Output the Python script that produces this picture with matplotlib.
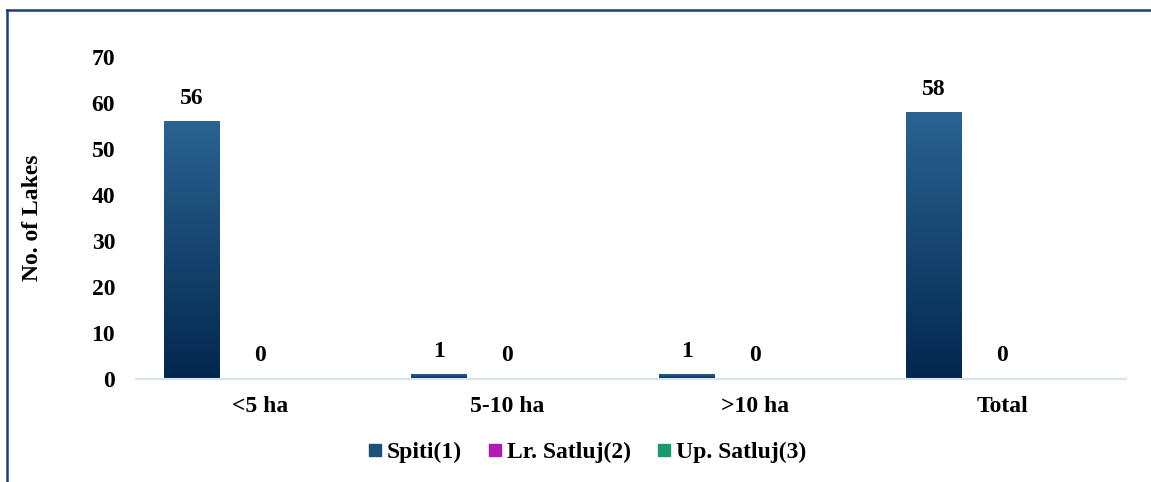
import matplotlib.pyplot as plt
import numpy as np
from matplotlib.lines import Line2D

categories = ['<5 ha', '5-10 ha', '>10 ha', 'Total']
spiti = [56, 1, 1, 58]
lr_satluj = [0, 0, 0, 0]
up_satluj = [0, 0, 0, 0]
series_names = ['Spiti(1)', 'Lr. Satluj(2)', 'Up. Satluj(3)']

plt.rcParams['font.family'] = ['Liberation Serif', 'DejaVu Serif']
plt.rcParams['font.weight'] = 'bold'

fig = plt.figure(figsize=(11.51, 4.82), dpi=100)
ax = fig.add_axes([0.1182, 0.2137, 0.8601, 0.668])

x = np.arange(len(categories))
width = 0.226
step = 0.275

bars = ax.bar(x - step, spiti, width, color='#1f4e79')
ax.bar(x, lr_satluj, width, color='#b01cb0')
ax.bar(x + step, up_satluj, width, color='#1a9a6a')

# vertical gradient on the Spiti bars
grad = np.linspace(0, 1, 256).reshape(-1, 1)
cmap = plt.matplotlib.colors.LinearSegmentedColormap.from_list('g', ['#03274f', '#2a6391'])
for b in bars:
    bx, by = b.get_x(), b.get_y()
    im = ax.imshow(grad, cmap=cmap, aspect='auto', origin='lower',
                   extent=[bx, bx + b.get_width(), by, by + b.get_height()], zorder=2)
    im.set_clip_path(b)
    b.set_facecolor('none')

for i in range(len(categories)):
    ax.annotate(str(spiti[i]), (x[i] - step, spiti[i]), xytext=(0, 9), textcoords='offset points',
                ha='center', va='bottom', fontsize=17, fontweight='bold')
    ax.annotate(str(lr_satluj[i]), (x[i], lr_satluj[i]), xytext=(0, 9), textcoords='offset points',
                ha='center', va='bottom', fontsize=17, fontweight='bold')

ax.set_xlim(-0.5, len(categories) - 0.5)
ax.set_ylim(0, 70)
ax.set_yticks(range(0, 71, 10))
ax.set_xticks(x)
ax.set_xticklabels(categories)
ax.tick_params(axis='both', length=0, labelsize=17)
ax.tick_params(axis='y', pad=15)
ax.tick_params(axis='x', pad=12)
for s in ['top', 'right', 'left']:
    ax.spines[s].set_visible(False)
ax.spines['bottom'].set_color('#d5e4f3')
ax.spines['bottom'].set_linewidth(1.5)
ax.set_ylabel('No. of Lakes', fontsize=17, fontweight='bold', labelpad=0)
ax.yaxis.set_label_coords(-0.094, 0.5)

handles = [Line2D([], [], marker='s', linestyle='', markersize=9, color=c)
           for c in ['#1f4e79', '#b01cb0', '#1a9a6a']]
fig.legend(handles, series_names, loc='center', bbox_to_anchor=(0.51, 0.062), ncol=3,
           frameon=False, fontsize=17, handlelength=0.6, handletextpad=0.2, columnspacing=1.1)

# outer frame (left and top edges)
fig.add_artist(Line2D([0.0061, 0.0061], [0, 0.979], color='#1f3f70', lw=1.8))
fig.add_artist(Line2D([0.0061, 1], [0.979, 0.979], color='#1f3f70', lw=1.8))

fig.savefig('out.png', dpi=100)
